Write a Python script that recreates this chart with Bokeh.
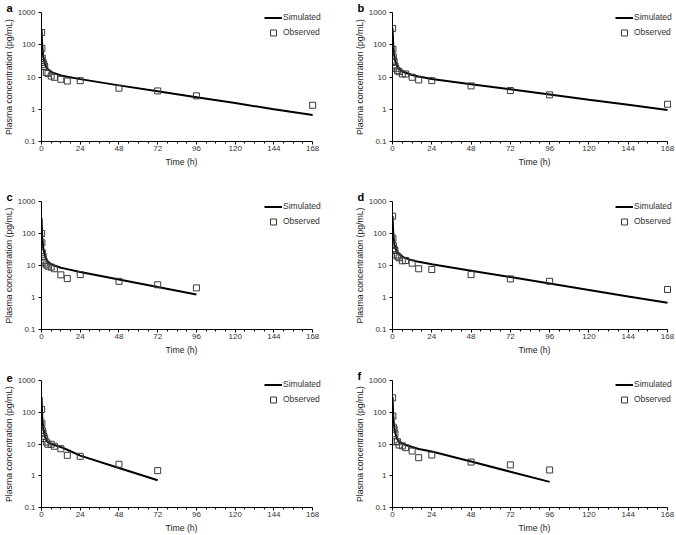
from bokeh.plotting import figure
from bokeh.layouts import row, column
from bokeh.models import FixedTicker, CustomJSTickFormatter, Legend, LegendItem, Title
from bokeh.embed import file_html
from bokeh.resources import INLINE

# ---------------- data ----------------
sim_time = [0.05, 0.25, 0.5, 1, 2, 3, 4, 6, 8, 12, 16, 24, 48, 72, 96, 120, 144, 168]
obs_time = [0.083, 0.25, 0.5, 1, 1.5, 2, 3, 4, 6, 8, 12, 16, 24, 48, 72, 96, 168]

sim_a = [300, 150, 85, 45, 26, 20, 17.5, 14.5, 13, 11.2, 10.2, 8.6, 5.5, 3.6, 2.35, 1.55, 1.0, 0.66]
sim_b = [320, 160, 90, 48, 28, 21, 18, 15, 13.5, 11.5, 10.4, 8.7, 6.0, 4.15, 2.86, 1.97, 1.37, 0.95]
sim_c = [300, 140, 75, 38, 21, 15.5, 13, 11, 10, 8.5, 7.7, 6.3, 3.65, 2.12, 1.24]
sim_d = [350, 170, 95, 50, 32, 26, 23, 19, 17, 14.5, 13, 11, 6.9, 4.35, 2.74, 1.72, 1.08, 0.68]
sim_e = [300, 130, 65, 33, 18, 13.5, 11.5, 10, 9.3, 8.0, 6.6, 4.3, 1.75, 0.72]
sim_f = [300, 140, 70, 34, 19, 14, 12, 10.5, 9.3, 8.0, 7.0, 5.8, 2.8, 1.34, 0.64]

obs_a = [240, 77, 38, 28, 24, 21, 13.6, 13, 10.7, 9.8, 8.5, 7.5, 7.7, 4.5, 3.7, 2.6, 1.33]
obs_b = [320, 72, 42, 30, 22, 18.6, 15.7, 14.6, 12.4, 12.4, 9.8, 8.1, 7.7, 5.3, 3.8, 2.8, 1.43]
obs_c = [100, 51, 25, 19, 14, 12, 10.5, 9.5, 8.9, 7.9, 5.1, 3.9, 5.2, 3.2, 2.5, 2.0]
obs_d = [348, 71, 42, 33, 29.4, 21.5, 19.5, 17.4, 14, 14.3, 11.8, 7.9, 7.5, 5.2, 3.8, 3.2, 1.78]
obs_e = [123, 45, 27, 22, 17.4, 14.7, 11.5, 9.8, 9.8, 8.5, 7.1, 4.4, 4.1, 2.3, 1.45]
obs_f = [285, 76, 34, 29, 21, 11.8, 11.8, 9.3, 8.7, 7.7, 6.0, 3.7, 4.5, 2.7, 2.2, 1.52]

panel_letters = ["a", "b", "c", "d", "e", "f"]
x_ticks = [0, 24, 48, 72, 96, 120, 144, 168]
x_minor_ticks = [6, 12, 18, 30, 36, 42, 54, 60, 66, 78, 84, 90, 102, 108, 114,
                 126, 132, 138, 150, 156, 162]
y_ticks = [0.1, 1, 10, 100, 1000]
x_label = "Time (h)"
y_label = "Plasma concentration (pg/mL)"
legend_labels = ["Simulated", "Observed"]

FONT = "Liberation Sans"

# layout geometry (pixels)
row_heights = [188, 179, 168]
row_tops = [12, 13, 13]
frame_heights = [129, 128, 128]
col_left = [37, 54]
frame_width = 284          # axis 0..168 spans 275 px; extra room on the right for the legend
x_end = 168 * frame_width / 275.0
fig_width = 338


def make_panel(letter, sim, obs, r, c):
    h = row_heights[r]
    fh = frame_heights[r]
    top = row_tops[r]
    bottom = h - top - fh
    left = col_left[c]
    right = fig_width - left - frame_width
    p = figure(width=fig_width, height=h, x_range=(0, x_end), y_range=(0.1, 1000),
               y_axis_type="log", output_backend="svg", toolbar_location=None,
               min_border_left=left, min_border_right=right,
               min_border_top=top, min_border_bottom=bottom)
    p.title = Title(text=letter, align="left", offset=-35, standoff=-4,
                    text_font=FONT, text_font_size="11px", text_font_style="bold",
                    text_color="black", vertical_align="middle")
    p.outline_line_color = None
    p.xgrid.visible = False
    p.ygrid.visible = False
    p.background_fill_color = "white"
    p.border_fill_color = "white"

    n_sim = len(sim)
    n_obs = len(obs)
    r_line = p.line(sim_time[:n_sim], sim, line_color="black", line_width=2)
    r_sq = p.scatter(obs_time[:n_obs], obs, marker="square", size=6,
                     fill_color=None, line_color="#3a3a3a", line_width=1)

    xa = p.xaxis[0]
    xa.ticker = FixedTicker(ticks=x_ticks, minor_ticks=x_minor_ticks)
    xa.bounds = (0, 168)
    xa.axis_label = x_label
    ya = p.yaxis[0]
    ya.ticker = FixedTicker(ticks=y_ticks, minor_ticks=[])
    ya.formatter = CustomJSTickFormatter(code="return tick.toString()")
    ya.axis_label = y_label
    for ax in (xa, ya):
        ax.axis_line_color = "black"
        ax.axis_line_width = 1
        ax.major_tick_line_color = "black"
        ax.minor_tick_line_color = "black"
        ax.major_tick_in = 0
        ax.major_tick_out = 3
        ax.major_label_text_font = FONT
        ax.major_label_text_font_size = "8px"
        ax.major_label_text_color = "#333333"
        ax.axis_label_text_font = FONT
        ax.axis_label_text_font_size = "8.7px"
        ax.axis_label_text_font_style = "normal"
        ax.axis_label_text_color = "#222222"
    xa.minor_tick_in = 0
    xa.minor_tick_out = 2
    xa.major_label_standoff = 1
    xa.axis_label_standoff = 3
    ya.minor_tick_in = 0
    ya.minor_tick_out = 0
    ya.major_label_standoff = 3
    ya.axis_label_standoff = 1

    legend = Legend(items=[LegendItem(label=legend_labels[0], renderers=[r_line]),
                           LegendItem(label=legend_labels[1], renderers=[r_sq])],
                    location=(223, fh - 27.5), orientation="vertical",
                    padding=0, margin=0, spacing=0, glyph_width=18, glyph_height=15,
                    label_height=15, label_standoff=1, border_line_color=None,
                    background_fill_alpha=0, label_text_font=FONT,
                    label_text_font_size="8.5px", label_text_color="#333333")
    p.add_layout(legend)
    return p


sims = [sim_a, sim_b, sim_c, sim_d, sim_e, sim_f]
obss = [obs_a, obs_b, obs_c, obs_d, obs_e, obs_f]
panels = []
for i in range(6):
    panels.append(make_panel(panel_letters[i], sims[i], obss[i], i // 2, i % 2))

layout = column(row(panels[0], panels[1], spacing=0),
                row(panels[2], panels[3], spacing=0),
                row(panels[4], panels[5], spacing=0), spacing=0)

open("out.html", "w").write(file_html(layout, INLINE))
